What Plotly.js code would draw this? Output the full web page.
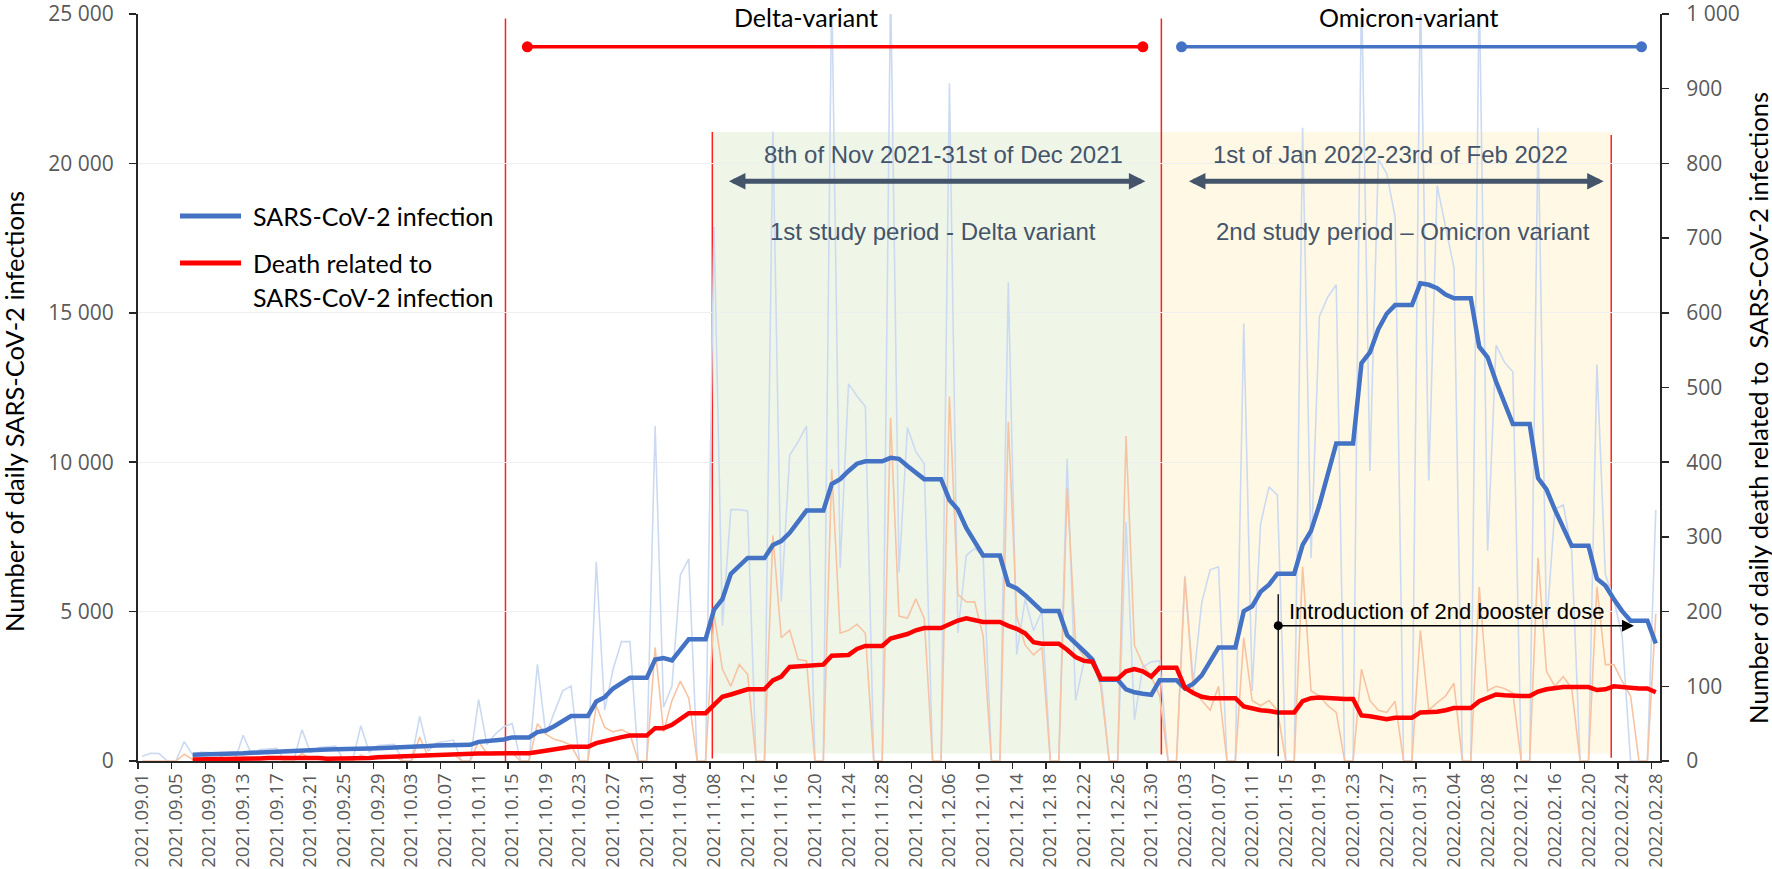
<!DOCTYPE html>
<html>
<head>
<meta charset="utf-8">
<script src="https://cdn.plot.ly/plotly-3.0.1.min.js"></script>
<style>
  html, body { margin: 0; padding: 0; background: #ffffff; }
  #chart { width: 1772px; height: 869px; }
</style>
</head>
<body>
<div id="chart"></div>
<script>
// ---------------- DATA ----------------
// Day 0 = 2021.09.01 ... day 180 = 2022.02.28
const startDate = '2021-09-01';
const dayCount = 181;

// daily new SARS-CoV-2 infections (left axis, light blue)
const dailyInfections = [
  160, 260, 250, 0, 0, 650, 200, 300, 280, 260, 0, 0, 860, 220, 380, 400, 420, 0, 0, 1050,
  280, 450, 480, 500, 0, 0, 1180, 300, 520, 550, 560, 0, 0, 1490, 330, 600, 650, 700, 0, 0,
  2055, 550, 900, 1150, 1250, 0, 0, 3236, 890, 1618, 2346, 2508, 0, 0, 6666, 1700, 3074, 3996, 3996, 0,
  0, 11213, 1800, 2508, 6229, 6763, 0, 0, 17879, 4530, 8414, 8414, 8365, 0, 0, 21066, 5339, 10242, 10679, 11213,
  0, 0, 26000, 6472, 12620, 12216, 11860, 0, 0, 26000, 6310, 11164, 10355, 9950, 0, 0, 22684, 4288, 6877, 7119,
  6877, 0, 0, 16018, 3560, 5420, 4369, 5016, 0, 0, 10112, 2022, 3317, 3317, 2830, 0, 0, 8010, 1375, 3155,
  3317, 3350, 0, 0, 6200, 2600, 5300, 6400, 6500, 0, 0, 14643, 2346, 7928, 9174, 8899, 0, 0, 21196, 6796,
  14886, 15533, 15937, 0, 0, 26000, 9708, 20144, 19659, 18203, 0, 0, 26000, 9385, 19254, 17879, 16504, 0, 0, 26000,
  7038, 13915, 13348, 13025, 0, 0, 21196, 4450, 8414, 8575, 7038, 0, 0, 13268, 6250, 5400, 4200, 0, 0, 0,
  8400
];

// daily deaths related to SARS-CoV-2 infection (right axis, light orange)
const dailyDeaths = [
  0, 0, 0, 0, 0, 9, 2, 3, 2, 2, 0, 0, 5, 3, 4, 4, 4, 0, 0, 10,
  3, 2, 2, 3, 0, 0, 8, 4, 6, 5, 6, 0, 0, 32, 6, 9, 8, 10, 0, 0,
  26, 10, 12, 9, 11, 0, 0, 50, 36, 29, 26, 21, 0, 0, 74, 45, 39, 42, 36, 0,
  0, 152, 39, 81, 107, 84, 0, 0, 197, 123, 100, 129, 116, 0, 0, 302, 165, 175, 136, 134,
  0, 0, 391, 171, 175, 183, 171, 0, 0, 459, 194, 191, 217, 191, 0, 0, 488, 223, 213, 213,
  168, 0, 0, 454, 194, 155, 142, 152, 0, 0, 365, 158, 139, 134, 100, 0, 0, 435, 155, 129,
  113, 87, 0, 0, 246, 94, 81, 68, 100, 0, 0, 165, 81, 74, 81, 68, 0, 0, 260, 94,
  87, 74, 65, 0, 0, 123, 81, 68, 65, 80, 0, 0, 175, 68, 78, 87, 104, 0, 0, 233,
  94, 100, 97, 91, 0, 0, 272, 120, 100, 113, 97, 0, 0, 233, 129, 129, 107, 87, 0, 0,
  197
];

// moving average of infections (left axis, thick blue)
const avgInfections = [
  null, null, null, null, null, null, 210, 215, 220, 225, 225, 225, 260, 275, 290, 310, 330, 330, 330, 360,
  370, 380, 385, 390, 390, 390, 410, 420, 430, 440, 450, 450, 450, 480, 500, 520, 530, 540, 540, 540,
  640, 670, 690, 720, 790, 790, 790, 970, 1020, 1165, 1330, 1505, 1505, 1505, 1990, 2136, 2427, 2600, 2783, 2783,
  2783, 3398, 3446, 3365, 3720, 4077, 4077, 4077, 5064, 5420, 6262, 6553, 6796, 6796, 6796, 7232, 7362, 7637, 8000, 8381,
  8381, 8381, 9271, 9433, 9708, 9950, 10031, 10031, 10031, 10145, 10112, 9870, 9650, 9433, 9433, 9433, 8737, 8414, 7799, 7300,
  6877, 6877, 6877, 5906, 5776, 5550, 5280, 5016, 5016, 5016, 4207, 3964, 3673, 3398, 2718, 2718, 2718, 2395, 2298, 2250,
  2217, 2702, 2702, 2702, 2427, 2589, 2864, 3330, 3802, 3802, 3802, 5016, 5178, 5663, 5900, 6270, 6270, 6270, 7232, 7700,
  8575, 9600, 10630, 10630, 10630, 13316, 13672, 14449, 14967, 15258, 15258, 15258, 15986, 15937, 15824, 15614, 15484, 15484, 15484, 13866,
  13510, 12701, 11973, 11277, 11277, 11277, 9465, 9093, 8414, 7766, 7200, 7200, 7200, 6100, 5873, 5420, 5016, 4692, 4692, 4692,
  3932
];

// moving average of deaths (right axis, thick red)
const avgDeaths = [
  null, null, null, null, null, null, 2, 2, 2, 2.5, 2.5, 2.5, 3, 3, 3.5, 4, 4, 4, 4, 4.5,
  5, 4, 3, 3, 3, 3, 3.5, 4, 5, 5.5, 6, 6, 6, 7.5, 8, 8.5, 9, 9, 9, 9.5,
  10, 10, 10, 10.5, 10.5, 10.5, 10.5, 12, 14, 16, 18, 19, 19, 19, 24, 27, 30, 32, 34, 34,
  34, 44, 44, 48.5, 56, 64, 64, 64, 75, 86, 89, 92, 96, 96, 96, 108, 113, 126, 127, 128,
  128, 129, 141, 142, 142, 150, 154, 154, 154, 164, 167, 170, 175, 178, 178, 178, 183, 188, 191, 189,
  186, 186, 186, 181, 177, 171, 159, 157, 157, 157, 149, 139, 134, 133, 110, 110, 110, 120, 123, 120,
  113, 125, 125, 125, 98, 91, 86, 84, 84, 84, 84, 73, 70, 68, 67, 65, 65, 65, 80, 84,
  85, 84, 83, 83, 83, 61, 60, 58, 56, 58, 58, 58, 65, 65, 66, 68, 71, 71, 71, 80,
  85, 89, 88, 87, 87, 87, 93, 96, 98, 99, 99, 99, 99, 95, 96, 100, 99, 97, 97, 97,
  92
];

const seriesNames = ['SARS-CoV-2 infection', 'Death related to SARS-CoV-2 infection'];

// ---------------- helpers ----------------
const DAY = 86400000;
const START = Date.UTC(2021, 8, 1);
function dayToDate(n) {
  const d = new Date(START + n * DAY);
  return d.toISOString().slice(0, 19).replace('T', ' ');
}
const dates = [];
for (let i = 0; i < dayCount; i++) dates.push(dayToDate(i).slice(0, 10));

// ---------------- traces ----------------
const traces = [
  { x: dates, y: dailyInfections, type: 'scatter', mode: 'lines', xaxis: 'x', yaxis: 'y',
    line: { color: '#CCDAF1', width: 1.6 }, hoverinfo: 'skip', name: 'daily infections' },
  { x: dates, y: dailyDeaths, type: 'scatter', mode: 'lines', xaxis: 'x', yaxis: 'y2',
    line: { color: '#F7C3A2', width: 1.6 }, hoverinfo: 'skip', name: 'daily deaths' },
  { x: dates, y: avgInfections, type: 'scatter', mode: 'lines', xaxis: 'x', yaxis: 'y3',
    line: { color: '#4472C4', width: 4.5 }, name: seriesNames[0] },
  { x: dates, y: avgDeaths, type: 'scatter', mode: 'lines', xaxis: 'x', yaxis: 'y4',
    line: { color: '#FF0000', width: 4.5 }, name: seriesNames[1] },
  { x: [], y: [], type: 'scatter', mode: 'lines', xaxis: 'x2', yaxis: 'y', hoverinfo: 'skip', showlegend: false }
];

// ---------------- layout ----------------
const axisColor = '#262626';
const tickGrey = '#595959';
const slate = '#44546A';
const arialF = 'Liberation Sans, Arial, sans-serif';
const calF = 'Lato, Carlito, Calibri, sans-serif';
const tickF = '"Open Sans", "Segoe UI", sans-serif';

const xRange = [dayToDate(-0.5), dayToDate(180.5)];

function vline(n, y0, y1) {
  return { type: 'line', xref: 'x', yref: 'y', x0: dayToDate(n), x1: dayToDate(n), y0: y0, y1: y1,
           line: { color: '#FF2020', width: 1.5 }, layer: 'below' };
}
function dot(n, yv, d, color) {
  return { type: 'circle', xref: 'x', yref: 'y', xsizemode: 'pixel', ysizemode: 'pixel',
           xanchor: dayToDate(n), yanchor: yv, x0: -d / 2, x1: d / 2, y0: -d / 2, y1: d / 2,
           fillcolor: color, line: { color: color, width: 0 }, layer: 'above' };
}

const shapes = [
  // study period backgrounds
  { type: 'rect', xref: 'x', yref: 'y', x0: dayToDate(67.8), x1: dayToDate(121.2), y0: 250, y1: 21050,
    fillcolor: '#EFF6E8', line: { width: 0 }, layer: 'below' },
  { type: 'rect', xref: 'x', yref: 'y', x0: dayToDate(121.2), x1: dayToDate(174.7), y0: 250, y1: 21050,
    fillcolor: '#FFF8E5', line: { width: 0 }, layer: 'below' },
  // red vertical markers
  vline(43.2, 0, 24850),
  vline(67.8, 80, 21050),
  vline(121.2, 220, 24850),
  vline(174.7, 110, 20950),
  // variant bars
  { type: 'line', xref: 'x', yref: 'y', x0: dayToDate(45.8), x1: dayToDate(119.0), y0: 23900, y1: 23900,
    line: { color: '#FF0000', width: 3.5 }, layer: 'above' },
  dot(45.8, 23900, 11, '#FF0000'), dot(119.0, 23900, 11, '#FF0000'),
  { type: 'line', xref: 'x', yref: 'y', x0: dayToDate(123.6), x1: dayToDate(178.3), y0: 23900, y1: 23900,
    line: { color: '#4472C4', width: 3.5 }, layer: 'above' },
  dot(123.6, 23900, 11, '#4472C4'), dot(178.3, 23900, 11, '#4472C4'),
  // booster marker
  { type: 'line', xref: 'x', yref: 'y', x0: dayToDate(135.1), x1: dayToDate(135.1), y0: 160, y1: 5580,
    line: { color: '#1A1A1A', width: 1.5 }, layer: 'above' },
  dot(135.1, 4530, 9, '#000000'),
  // legend swatches
  { type: 'line', xref: 'paper', yref: 'paper', x0: 0.0276, x1: 0.0677, y0: 0.7296, y1: 0.7296,
    line: { color: '#4472C4', width: 5 }, layer: 'above' },
  { type: 'line', xref: 'paper', yref: 'paper', x0: 0.0276, x1: 0.0677, y0: 0.6667, y1: 0.6667,
    line: { color: '#FF0000', width: 5 }, layer: 'above' }
];

function txt(text, x, y, size, color, family, opts) {
  return Object.assign({ text: text, x: x, y: y, xref: 'x', yref: 'y', showarrow: false,
    font: { size: size, color: color, family: family }, xanchor: 'center', yanchor: 'middle' }, opts || {});
}

const annotations = [
  txt('Delta-variant', dayToDate(78.9), 1.0187, 25, '#000000', calF, { yref: 'paper', yanchor: 'top' }),
  txt('Omicron-variant', dayToDate(150.7), 1.0187, 25, '#000000', calF, { yref: 'paper', yanchor: 'top' }),
  txt('8th of Nov 2021-31st of Dec 2021', dayToDate(95.3), 20300, 24, slate, arialF),
  txt('1st study period - Delta variant', dayToDate(94.0), 17733, 24, slate, arialF),
  txt('1st of Jan 2022-23rd of Feb 2022', dayToDate(148.4), 20300, 24, slate, arialF),
  txt('2nd study period \u2013 Omicron variant', dayToDate(149.9), 17733, 24, slate, arialF),
  txt('Introduction of 2nd booster dose', dayToDate(136.2), 5000, 22, '#000000', arialF, { xanchor: 'left' }),
  // double-headed period arrows
  { x: dayToDate(119.3), y: 19400, ax: dayToDate(69.6), ay: 19400, xref: 'x', yref: 'y', axref: 'x', ayref: 'y',
    text: '', showarrow: true, arrowhead: 2, startarrowhead: 2, arrowside: 'end+start', arrowwidth: 5,
    arrowsize: 0.66, startarrowsize: 0.66, arrowcolor: slate, standoff: 0, startstandoff: 0 },
  { x: dayToDate(173.8), y: 19400, ax: dayToDate(124.3), ay: 19400, xref: 'x', yref: 'y', axref: 'x', ayref: 'y',
    text: '', showarrow: true, arrowhead: 2, startarrowhead: 2, arrowside: 'end+start', arrowwidth: 5,
    arrowsize: 0.66, startarrowsize: 0.66, arrowcolor: slate, standoff: 0, startstandoff: 0 },
  // booster arrow
  { x: dayToDate(177.4), y: 4530, ax: dayToDate(135.1), ay: 4530, xref: 'x', yref: 'y', axref: 'x', ayref: 'y',
    text: '', showarrow: true, arrowhead: 2, arrowwidth: 1.5, arrowsize: 1.6, arrowcolor: '#000000', standoff: 0 },
  // legend text
  { text: seriesNames[0], xref: 'paper', yref: 'paper', x: 0.0742, y: 0.7296, xanchor: 'left', yanchor: 'middle',
    showarrow: false, font: { size: 25, color: '#000000', family: calF } },
  { text: 'Death related to', xref: 'paper', yref: 'paper', x: 0.0742, y: 0.6667, xanchor: 'left', yanchor: 'middle',
    showarrow: false, font: { size: 25, color: '#000000', family: calF } },
  { text: 'SARS-CoV-2 infection', xref: 'paper', yref: 'paper', x: 0.0742, y: 0.6205, xanchor: 'left', yanchor: 'middle',
    showarrow: false, font: { size: 25, color: '#000000', family: calF } },
  // axis titles
  { text: 'Number of daily SARS-CoV-2 infections', xref: 'paper', yref: 'paper', x: -0.0815, y: 0.4685,
    xanchor: 'center', yanchor: 'middle', textangle: -90, showarrow: false,
    font: { size: 25.5, color: '#000000', family: calF } },
  { text: 'Number of daily death related to&nbsp; SARS-CoV-2 infections', xref: 'paper', yref: 'paper', x: 1.0644, y: 0.4726,
    xanchor: 'center', yanchor: 'middle', textangle: -90, showarrow: false,
    font: { size: 25.5, color: '#000000', family: calF } }
];

const layout = {
  width: 1772, height: 869,
  margin: { l: 138, r: 112, t: 14, b: 108, pad: 0 },
  paper_bgcolor: '#ffffff', plot_bgcolor: '#ffffff',
  showlegend: false,
  separators: '. ',
  xaxis: {
    type: 'date', range: xRange, tick0: startDate, dtick: 4 * DAY, tickformat: '%Y.%m.%d',
    tickangle: -90, ticks: '', showline: true, linecolor: axisColor, linewidth: 2,
    showgrid: false, zeroline: false, ticklabelstandoff: 3,
    tickfont: { family: tickF, size: 18.5, color: tickGrey }, anchor: 'y', fixedrange: true
  },
  xaxis2: {
    type: 'date', overlaying: 'x', anchor: 'y', side: 'bottom', range: xRange,
    tick0: dayToDate(-0.5), dtick: 4 * DAY, ticks: 'outside', ticklen: 7, tickwidth: 1.5, tickcolor: axisColor,
    showticklabels: false, showline: false, showgrid: false, zeroline: false, fixedrange: true
  },
  yaxis: {
    range: [0, 25000], tick0: 0, dtick: 5000, tickformat: ',d', ticks: 'outside', ticklen: 7, tickwidth: 1.5,
    tickcolor: axisColor, showline: true, linecolor: axisColor, linewidth: 2, showgrid: true,
    gridcolor: '#EFEFEF', gridwidth: 1, zeroline: false, ticklabelstandoff: 11, ticklabeloverflow: 'allow',
    tickfont: { family: tickF, size: 21, color: tickGrey }, fixedrange: true
  },
  yaxis2: {
    overlaying: 'y', side: 'right', anchor: 'x', range: [0, 1000], tick0: 0, dtick: 100, tickformat: ',d',
    ticks: 'outside', ticklen: 7, tickwidth: 1.5, tickcolor: axisColor, showline: true, linecolor: axisColor,
    linewidth: 2, showgrid: false, zeroline: false, ticklabelstandoff: 13, ticklabeloverflow: 'allow',
    tickfont: { family: tickF, size: 21, color: tickGrey }, fixedrange: true
  },
  yaxis3: { overlaying: 'y', anchor: 'x', range: [0, 25000], visible: false, fixedrange: true },
  yaxis4: { overlaying: 'y', anchor: 'x', range: [0, 1000], visible: false, fixedrange: true },
  shapes: shapes,
  annotations: annotations
};

Plotly.newPlot('chart', traces, layout, { staticPlot: true, displayModeBar: false });
</script>
</body>
</html>
